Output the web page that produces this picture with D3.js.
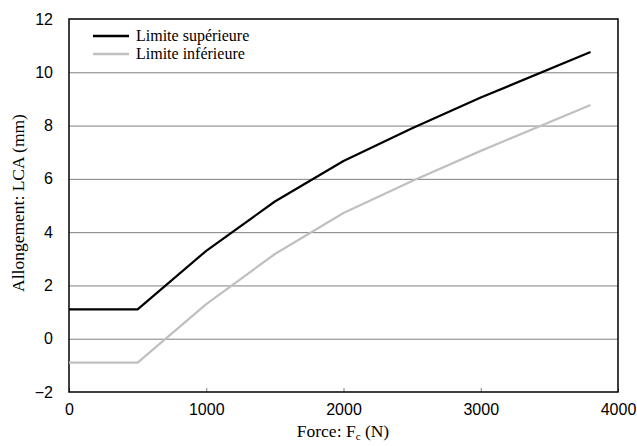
<!DOCTYPE html>
<html>
<head>
<meta charset="utf-8">
<script src="https://d3js.org/d3.v7.min.js"></script>
<style>
body { margin: 0; background: #fff; }
.tick text { font-family: "Liberation Sans", Arial, sans-serif; font-size: 16px; fill: #000; }
.title { font-family: "Liberation Serif", "Times New Roman", serif; font-size: 17.5px; fill: #000; }
</style>
</head>
<body>
<div class="container"></div>
<script>
const WIDTH = 637;
const HEIGHT = 446;
const LEFT = 69, RIGHT = 618, TOP = 19, BOTTOM = 392;

var force = [0, 500, 1000, 1500, 2000, 2500, 3000, 3800];
var upper = [1.1, 1.1, 3.3, 5.15, 6.67, 7.9, 9.05, 10.76];
var lower = [-0.9, -0.9, 1.3, 3.18, 4.72, 5.92, 7.05, 8.77];
var xTicks = [0, 1000, 2000, 3000, 4000];
var yTicks = [-2, 0, 2, 4, 6, 8, 10, 12];
var seriesNames = ["Limite supérieure", "Limite inférieure"];
var seriesColors = ["#000000", "#c0c0c0"];

var xScale = d3.scaleLinear().domain([0, 4000]).range([LEFT, RIGHT]);
var yScale = d3.scaleLinear().domain([-2, 12]).range([BOTTOM, TOP]);

var svg = d3.select(".container").append("svg")
	.attr("width", WIDTH)
	.attr("height", HEIGHT);

// gridlines
svg.append("g").selectAll("line").data(yTicks.filter(function(d){ return d > -2 && d < 12; }))
	.enter().append("line")
	.attr("x1", LEFT).attr("x2", RIGHT)
	.attr("y1", function(d){ return yScale(d) + 0.5; })
	.attr("y2", function(d){ return yScale(d) + 0.5; })
	.attr("stroke", "#808080").attr("stroke-width", 1);

// axes
var xAxis = d3.axisBottom(xScale).tickValues(xTicks).tickSize(-4).tickPadding(12).tickFormat(d3.format("d"));
var yAxis = d3.axisLeft(yScale).tickValues(yTicks).tickSize(0).tickPadding(16);

var xg = svg.append("g").attr("transform", "translate(0," + BOTTOM + ")").call(xAxis);
xg.select(".domain").remove();
xg.selectAll(".tick line").attr("stroke", "#808080");

var yg = svg.append("g").attr("transform", "translate(" + LEFT + ",0)").call(yAxis);
yg.select(".domain").remove();

// frame
svg.append("rect")
	.attr("x", LEFT).attr("y", TOP)
	.attr("width", RIGHT - LEFT).attr("height", BOTTOM - TOP)
	.attr("fill", "none").attr("stroke", "#000").attr("stroke-width", 1.5);

// lines
var line = d3.line()
	.x(function(d){ return xScale(d[0]); })
	.y(function(d){ return yScale(d[1]); });

[upper, lower].forEach(function(vals, i){
	svg.append("path")
		.attr("d", line(force.map(function(f, j){ return [f, vals[j]]; })))
		.attr("fill", "none")
		.attr("stroke", seriesColors[i])
		.attr("stroke-width", 2.2)
		.attr("stroke-linejoin", "round");
});

// legend
var legend = svg.append("g").attr("transform", "translate(93,36)");
seriesNames.forEach(function(name, i){
	legend.append("line")
		.attr("x1", 0).attr("x2", 36)
		.attr("y1", i * 18).attr("y2", i * 18)
		.attr("stroke", seriesColors[i]).attr("stroke-width", 2.5);
	legend.append("text")
		.attr("class", "title")
		.attr("x", 43).attr("y", i * 18 + 5)
		.style("font-size", "16px")
		.text(name);
});

// axis titles
var xt = svg.append("text").attr("class", "title")
	.attr("x", 343).attr("y", 437)
	.attr("text-anchor", "middle");
xt.append("tspan").text("Force: F");
xt.append("tspan").attr("font-size", "11px").attr("dy", 3).text("c");
xt.append("tspan").attr("dy", -3).text(" (N)");

svg.append("text").attr("class", "title")
	.attr("transform", "translate(24,203) rotate(-90)")
	.attr("text-anchor", "middle")
	.text("Allongement: LCA (mm)");
</script>
</body>
</html>
